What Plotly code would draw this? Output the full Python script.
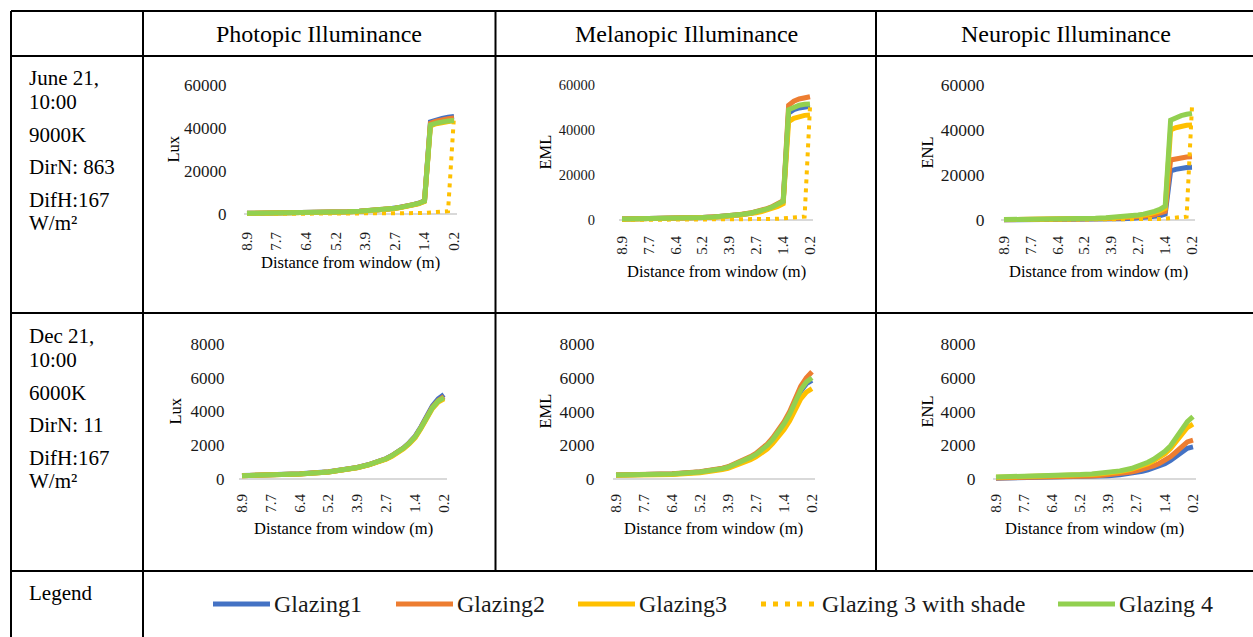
import plotly.graph_objects as go

W, H = 1253, 637
FONT = "Liberation Serif, Times New Roman, serif"

# ---------------- data ----------------
DIST = [8.90, 7.66, 6.41, 5.17, 4.67, 4.18, 3.93, 3.43, 2.93, 2.69,
        2.44, 2.19, 1.94, 1.69, 1.44, 1.19, 0.95, 0.70, 0.45, 0.20]
TICK_POS = [8.90, 7.66, 6.41, 5.17, 3.93, 2.69, 1.44, 0.20]
TICK_TEXT = ["8.9", "7.7", "6.4", "5.2", "3.9", "2.7", "1.4", "0.2"]

SERIES = ["Glazing1", "Glazing2", "Glazing3", "Glazing 3 with shade", "Glazing 4"]
COLORS = ["#4472C4", "#ED7D31", "#FFC000", "#FFC000", "#92D050"]

COLUMNS = ["Photopic Illuminance", "Melanopic Illuminance", "Neuropic Illuminance"]
UNITS = ["Lux", "EML", "ENL"]
ROW_TEXT = [
    ["June 21,", "10:00", "9000K", "DirN: 863", "DifH:167", "W/m²"],
    ["Dec 21,", "10:00", "6000K", "DirN: 11", "DifH:167", "W/m²"],
]
Y_TICKS = [[0, 20000, 40000, 60000], [0, 2000, 4000, 6000, 8000]]
Y_TICK_TEXT = [["0", "20000", "40000", "60000"], ["0", "2000", "4000", "6000", "8000"]]

# June 21 (with shade series)
jun_photopic = {
    "Glazing1": [320, 380, 520, 820, 1020, 1270, 1420, 1830, 2350, 2750, 3150, 3650, 4250, 5000, 6100, 42800, 43800, 44500, 45000, 45300],
    "Glazing2": [310, 370, 510, 810, 1010, 1260, 1410, 1810, 2330, 2720, 3120, 3620, 4220, 4950, 6050, 42200, 43200, 43900, 44300, 44600],
    "Glazing3": [290, 350, 480, 770, 960, 1200, 1340, 1720, 2220, 2600, 2980, 3460, 4030, 4730, 5800, 41000, 42000, 42700, 43200, 43500],
    "Glazing 3 with shade": [20, 25, 35, 55, 70, 90, 100, 130, 170, 200, 240, 290, 350, 430, 540, 700, 900, 1100, 1300, 45500],
    "Glazing 4": [300, 360, 500, 800, 1000, 1250, 1400, 1800, 2300, 2700, 3100, 3600, 4200, 4900, 6000, 41500, 42300, 42900, 43300, 43500],
}
jun_melanopic = {
    "Glazing1": [390, 480, 680, 1070, 1320, 1610, 1850, 2340, 3020, 3510, 4100, 4780, 5660, 6730, 8100, 47500, 49000, 49800, 50300, 50500],
    "Glazing2": [410, 510, 720, 1130, 1390, 1700, 1960, 2470, 3190, 3710, 4330, 5050, 5970, 7110, 8550, 51000, 52800, 53800, 54500, 54800],
    "Glazing3": [350, 440, 620, 970, 1190, 1450, 1670, 2110, 2730, 3170, 3700, 4310, 5100, 6070, 7300, 43700, 45200, 46000, 46500, 46700],
    "Glazing 3 with shade": [30, 35, 50, 80, 100, 125, 140, 180, 240, 280, 330, 390, 460, 560, 700, 850, 1000, 1200, 1500, 50200],
    "Glazing 4": [400, 500, 700, 1100, 1350, 1650, 1900, 2400, 3100, 3600, 4200, 4900, 5800, 6900, 8300, 49000, 50200, 51000, 51400, 51600],
}
jun_neuropic = {
    "Glazing1": [90, 110, 150, 250, 310, 390, 450, 580, 770, 900, 1060, 1260, 1520, 1880, 2600, 21800, 22500, 23000, 23300, 23400],
    "Glazing2": [130, 160, 220, 370, 460, 580, 670, 860, 1140, 1330, 1570, 1860, 2260, 2800, 3800, 26700, 27300, 27700, 28000, 28100],
    "Glazing3": [170, 210, 300, 510, 640, 810, 940, 1190, 1610, 1870, 2210, 2630, 3230, 4000, 5200, 40000, 41000, 41700, 42100, 42200],
    "Glazing 3 with shade": [20, 25, 35, 60, 75, 95, 110, 140, 190, 220, 260, 310, 380, 470, 600, 750, 950, 1200, 1500, 50400],
    "Glazing 4": [200, 250, 350, 600, 750, 950, 1100, 1400, 1900, 2200, 2600, 3100, 3800, 4700, 6200, 44400, 45600, 46400, 47000, 47400],
}

# Dec 21 (no shade series)
dec_photopic = {
    "Glazing1": [205, 235, 305, 425, 505, 605, 685, 860, 1060, 1210, 1390, 1600, 1850, 2160, 2540, 3100, 3720, 4330, 4750, 5000],
    "Glazing2": [200, 230, 300, 420, 500, 600, 680, 850, 1050, 1200, 1380, 1580, 1830, 2130, 2500, 3050, 3650, 4250, 4650, 4880],
    "Glazing3": [195, 225, 295, 410, 490, 590, 665, 835, 1030, 1175, 1350, 1550, 1790, 2090, 2450, 2990, 3580, 4170, 4560, 4750],
    "Glazing 4": [200, 230, 300, 420, 500, 600, 680, 850, 1050, 1200, 1380, 1580, 1830, 2130, 2500, 3040, 3630, 4220, 4620, 4820],
}
dec_melanopic = {
    "Glazing1": [230, 250, 295, 410, 485, 610, 695, 950, 1260, 1440, 1670, 1960, 2320, 2750, 3230, 3800, 4500, 5200, 5650, 5850],
    "Glazing2": [240, 260, 310, 430, 510, 640, 730, 1000, 1330, 1520, 1760, 2070, 2450, 2900, 3400, 4000, 4750, 5500, 6000, 6350],
    "Glazing3": [220, 240, 270, 375, 445, 560, 635, 870, 1150, 1310, 1510, 1780, 2110, 2500, 2930, 3450, 4100, 4750, 5150, 5350],
    "Glazing 4": [235, 255, 300, 415, 490, 615, 700, 960, 1280, 1460, 1690, 1990, 2350, 2790, 3270, 3850, 4570, 5280, 5750, 6000],
}
dec_neuropic = {
    "Glazing1": [40, 60, 80, 120, 140, 170, 190, 250, 330, 390, 450, 540, 640, 760, 910, 1100, 1330, 1580, 1820, 1900],
    "Glazing2": [60, 80, 110, 150, 180, 220, 250, 320, 410, 480, 560, 660, 780, 920, 1100, 1320, 1600, 1900, 2200, 2300],
    "Glazing3": [100, 130, 170, 230, 270, 320, 350, 440, 570, 660, 770, 910, 1080, 1280, 1500, 1800, 2200, 2650, 3050, 3250],
    "Glazing 4": [120, 150, 190, 260, 300, 350, 390, 480, 620, 720, 840, 990, 1170, 1380, 1640, 1970, 2400, 2900, 3400, 3700],
}

PANELS = [jun_photopic, jun_melanopic, jun_neuropic, dec_photopic, dec_melanopic, dec_neuropic]
Y_MAX = [60000, 60000, 60000, 8000, 8000, 8000]

# ---------------- layout geometry (pixels) ----------------
# (x of first point, x of last point, y of top tick, y of zero line,
#  right edge of y labels, top of x labels, x-title y, y-title x, y tick size)
GEOM = [
    (247, 454, 85, 214, 228, 228, 262, 173, 17),
    (622, 810, 85, 220, 596, 232, 271, 545, 14.5),
    (1004, 1192, 85, 220, 986, 232, 271, 927, 17.5),
    (242, 444, 344, 479, 226, 490, 528, 175, 17),
    (616, 812, 344, 479, 596, 490, 528, 545, 17.5),
    (996, 1193, 344, 479, 977, 490, 528, 927, 17.5),
]
LINE_W = 5
BELOW = 4  # px of plot area kept under the zero line so thick lines are not clipped
LABEL_PAD = 3  # plotly's own gap between tick end and tick label


def fx(p):
    return p / W


def fy(p):
    return 1 - p / H


fig = go.Figure()
layout = dict(
    template="none",
    width=W, height=H, autosize=False,
    margin=dict(l=0, r=0, t=0, b=0, pad=0, autoexpand=False),
    paper_bgcolor="white", plot_bgcolor="white",
    showlegend=False,
    font=dict(family=FONT, color="#000000"),
)
annotations = []
shapes = []

for k, (panel, ymax, g) in enumerate(zip(PANELS, Y_MAX, GEOM)):
    i = k + 1
    xf, xl, ytop, ybase, ylab_r, xlab_t, xt_y, yt_x, ysize = g
    scale = (xl - xf) / (DIST[0] - DIST[-1])
    padx = 3 / scale
    yscale = (ybase - ytop) / ymax
    dom_left = xf - 3
    dom_bottom = ybase + BELOW
    ax_x = "xaxis" if i == 1 else f"xaxis{i}"
    ax_y = "yaxis" if i == 1 else f"yaxis{i}"
    layout[ax_x] = dict(
        domain=[fx(dom_left), fx(xl + 3)],
        anchor=f"y{i}" if i > 1 else "y",
        range=[DIST[0] + padx, DIST[-1] - padx],
        automargin=False,
        showgrid=False, zeroline=False, showline=False,
        tickmode="array", tickvals=TICK_POS, ticktext=TICK_TEXT,
        tickangle=-90, ticks="outside",
        ticklen=max(xlab_t - dom_bottom - LABEL_PAD, 1),
        tickcolor="rgba(0,0,0,0)",
        tickfont=dict(family=FONT, size=15, color="#1a1a1a"),
    )
    layout[ax_y] = dict(
        domain=[fy(dom_bottom), fy(ytop)],
        anchor=f"x{i}" if i > 1 else "x",
        range=[-BELOW / yscale, ymax],
        automargin=False,
        showgrid=False, showline=False,
        zeroline=True, zerolinecolor="#D9D9D9", zerolinewidth=2,
        tickmode="array", tickvals=Y_TICKS[k // 3], ticktext=Y_TICK_TEXT[k // 3],
        ticks="outside", ticklen=max(dom_left - ylab_r - LABEL_PAD, 1),
        tickcolor="rgba(0,0,0,0)",
        tickfont=dict(family=FONT, size=ysize, color="#1a1a1a"),
    )
    for name, color in zip(SERIES, COLORS):
        if name not in panel:
            continue
        dotted = "shade" in name
        fig.add_trace(go.Scatter(
            x=DIST, y=panel[name], name=name, mode="lines",
            xaxis=f"x{i}" if i > 1 else "x", yaxis=f"y{i}" if i > 1 else "y",
            line=dict(color=color, width=4 if dotted else LINE_W,
                      dash="4px,5px" if dotted else "solid"),
            hovertemplate="%{x} m: %{y}<extra>" + name + "</extra>",
        ))
    # axis titles
    annotations.append(dict(
        text="Distance from window (m)", xref="paper", yref="paper",
        x=fx((xf + xl) / 2), y=fy(xt_y), xanchor="center", yanchor="middle",
        showarrow=False, font=dict(family=FONT, size=16.5, color="#000000"),
    ))
    annotations.append(dict(
        text=UNITS[k % 3], xref="paper", yref="paper",
        x=fx(yt_x), y=fy((ytop + ybase) / 2), xanchor="center", yanchor="middle",
        textangle=-90, showarrow=False, font=dict(family=FONT, size=16.5, color="#000000"),
    ))

# ---------------- table frame ----------------
FULL_V = [11, 143]          # run down through the legend row
CHART_V = [495.5, 876]      # stop at the legend row
H_LINES = [11, 56, 313, 571]
for xv in FULL_V:
    shapes.append(dict(type="line", xref="paper", yref="paper",
                       x0=fx(xv), x1=fx(xv), y0=fy(11), y1=fy(H),
                       line=dict(color="black", width=2)))
for xv in CHART_V:
    shapes.append(dict(type="line", xref="paper", yref="paper",
                       x0=fx(xv), x1=fx(xv), y0=fy(11), y1=fy(571),
                       line=dict(color="black", width=2)))
for yh in H_LINES:
    shapes.append(dict(type="line", xref="paper", yref="paper",
                       x0=fx(11), x1=fx(W), y0=fy(yh), y1=fy(yh),
                       line=dict(color="black", width=2)))

# column headers
HEADER_X = [319, 686, 1066]
for text, xc in zip(COLUMNS, HEADER_X):
    annotations.append(dict(
        text=text, xref="paper", yref="paper", x=fx(xc), y=fy(34),
        xanchor="center", yanchor="middle", showarrow=False,
        font=dict(family=FONT, size=24, color="#000000"),
    ))

# row descriptions
ROW_Y = [78, 102, 135, 167, 200, 223]
for r, lines in enumerate(ROW_TEXT):
    off = 258 * r
    for text, yc in zip(lines, ROW_Y):
        annotations.append(dict(
            text=text, xref="paper", yref="paper", x=fx(27), y=fy(yc + off),
            xanchor="left", yanchor="middle", showarrow=False,
            font=dict(family=FONT, size=21, color="#000000"),
        ))
annotations.append(dict(
    text="Legend", xref="paper", yref="paper", x=fx(27), y=fy(593),
    xanchor="left", yanchor="middle", showarrow=False,
    font=dict(family=FONT, size=21, color="#000000"),
))

# legend row: sample line + label for every series
LEG_X = [213, 396, 578, 761, 1058]
LEG_Y = 604
for name, color, x0 in zip(SERIES, COLORS, LEG_X):
    dotted = "shade" in name
    shapes.append(dict(
        type="line", xref="paper", yref="paper",
        x0=fx(x0), x1=fx(x0 + (53 if dotted else 57)), y0=fy(LEG_Y), y1=fy(LEG_Y),
        line=dict(color=color, width=5, dash="5px,7px" if dotted else "solid"),
    ))
    annotations.append(dict(
        text=name, xref="paper", yref="paper",
        x=fx(x0 + 59), y=fy(LEG_Y),
        xanchor="left", yanchor="middle", showarrow=False,
        font=dict(family=FONT, size=24, color="#1a1a1a"),
    ))

layout["annotations"] = annotations
layout["shapes"] = shapes
fig.update_layout(**layout)
fig.write_html(
    "out.html",
    config={"responsive": False},
    post_script="document.body.style.margin='0';document.body.style.padding='0';",
)
